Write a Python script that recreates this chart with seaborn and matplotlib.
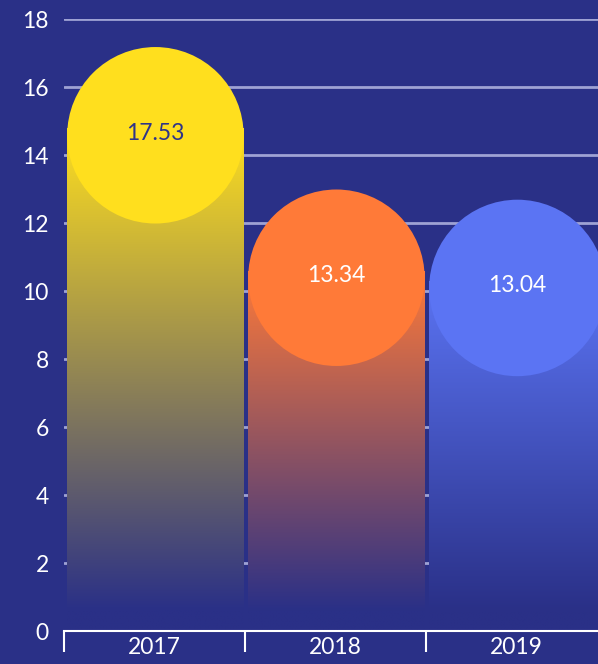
import numpy as np
import matplotlib
matplotlib.use("Agg")
import matplotlib.pyplot as plt
from matplotlib.patches import Ellipse
from matplotlib.colors import to_rgb
import seaborn as sns

# ---- data ----
years = ["2017", "2018", "2019"]
values = [17.53, 13.34, 13.04]
bar_colors = ["#FFDF1E", "#FF7A38", "#5B74F3"]
label_colors = ["#2E3489", "#FFFFFF", "#FFFFFF"]
y_ticks = [0, 2, 4, 6, 8, 10, 12, 14, 16, 18]

# ---- style ----
BG = "#2A3087"
GRID = "#9EA2D4"
W, H = 598, 664
TOP_OFFSET = 2.75      # bar rectangle ends below the value
CIRCLE_OFFSET = 2.95   # circle centre below the value
FADE_END = 0.6         # gradient reaches background here
BAR_WIDTH = 0.975

sns.set_theme(style="dark")
plt.rcParams["font.family"] = ["Lato", "DejaVu Sans"]

fig = plt.figure(figsize=(W / 100, H / 100), dpi=100, facecolor=BG)
ax_left, ax_right = 64, 607
ax_top, ax_bottom = 19, 631
ax = fig.add_axes([ax_left / W, (H - ax_bottom) / H,
                   (ax_right - ax_left) / W, (ax_bottom - ax_top) / H])
ax.set_facecolor(BG)

bar_tops = [v - TOP_OFFSET for v in values]
sns.barplot(x=years, y=bar_tops, hue=years, palette=bar_colors,
            width=BAR_WIDTH, legend=False, ax=ax, zorder=2)

ax.set_xlim(-0.5, 2.5)
ax.set_ylim(0, 18)

bg_rgb = np.array(to_rgb(BG))
px_per_x = (ax_right - ax_left) / 3.0
px_per_y = (ax_bottom - ax_top) / 18.0
for patch, col, v, lc in zip(ax.patches, bar_colors, values, label_colors):
    x0 = patch.get_x() + 0.005
    w = patch.get_width()
    h = patch.get_height()
    n = 256
    ys = np.linspace(0, h, n)
    t = np.clip((ys - FADE_END) / (h - FADE_END), 0, 1)[:, None]
    c = np.array(to_rgb(col))
    img = (bg_rgb[None, :] * (1 - t) + c[None, :] * t)[:, None, :]
    patch.set_x(x0)
    im = ax.imshow(img, extent=[x0, x0 + w, 0, h], origin="lower",
                   aspect="auto", zorder=2, interpolation="bilinear")
    im.set_clip_path(patch)
    patch.set_facecolor("none")
    patch.set_edgecolor("none")

    # circle on top (true circle in pixels)
    cx = x0 + w / 2
    cy = v - CIRCLE_OFFSET
    ell = Ellipse((cx, cy), width=w, height=w * px_per_x / px_per_y,
                  facecolor=col, edgecolor="none", zorder=3)
    ax.add_patch(ell)
    ax.text(cx, cy + 0.06, f"{v:.2f}", ha="center", va="center",
            color=lc, fontsize=16.5, zorder=4)

ax.set_ylim(0, 18)
ax.set_xlim(-0.5, 2.5)

# grid
ax.set_yticks(y_ticks)
ax.set_yticklabels([str(t) for t in y_ticks])
ax.yaxis.grid(True, color=GRID, linewidth=2, zorder=0)
ax.xaxis.grid(False)
ax.set_axisbelow(True)
ax.tick_params(axis="y", left=False, length=0, pad=11,
               labelcolor="white", labelsize=16.5)

# x axis: boundary ticks + centered labels
ax.set_xticks([-0.5, 0.5, 1.5, 2.5])
ax.set_xticklabels([])
ax.set_xticks([0, 1, 2], minor=True)
ax.set_xticklabels(years, minor=True)
ax.tick_params(axis="x", which="major", bottom=True, length=15, width=1.5,
               color="white", direction="out")
ax.tick_params(axis="x", which="minor", bottom=True, length=0, pad=4,
               labelcolor="white", labelsize=16.5)
ax.set_xlabel("")
ax.set_ylabel("")

for s in ["left", "top", "right"]:
    ax.spines[s].set_visible(False)
ax.spines["bottom"].set_color("white")
ax.spines["bottom"].set_linewidth(1.5)
ax.spines["bottom"].set_zorder(5)

fig.savefig("out.png", dpi=100, facecolor=BG)
